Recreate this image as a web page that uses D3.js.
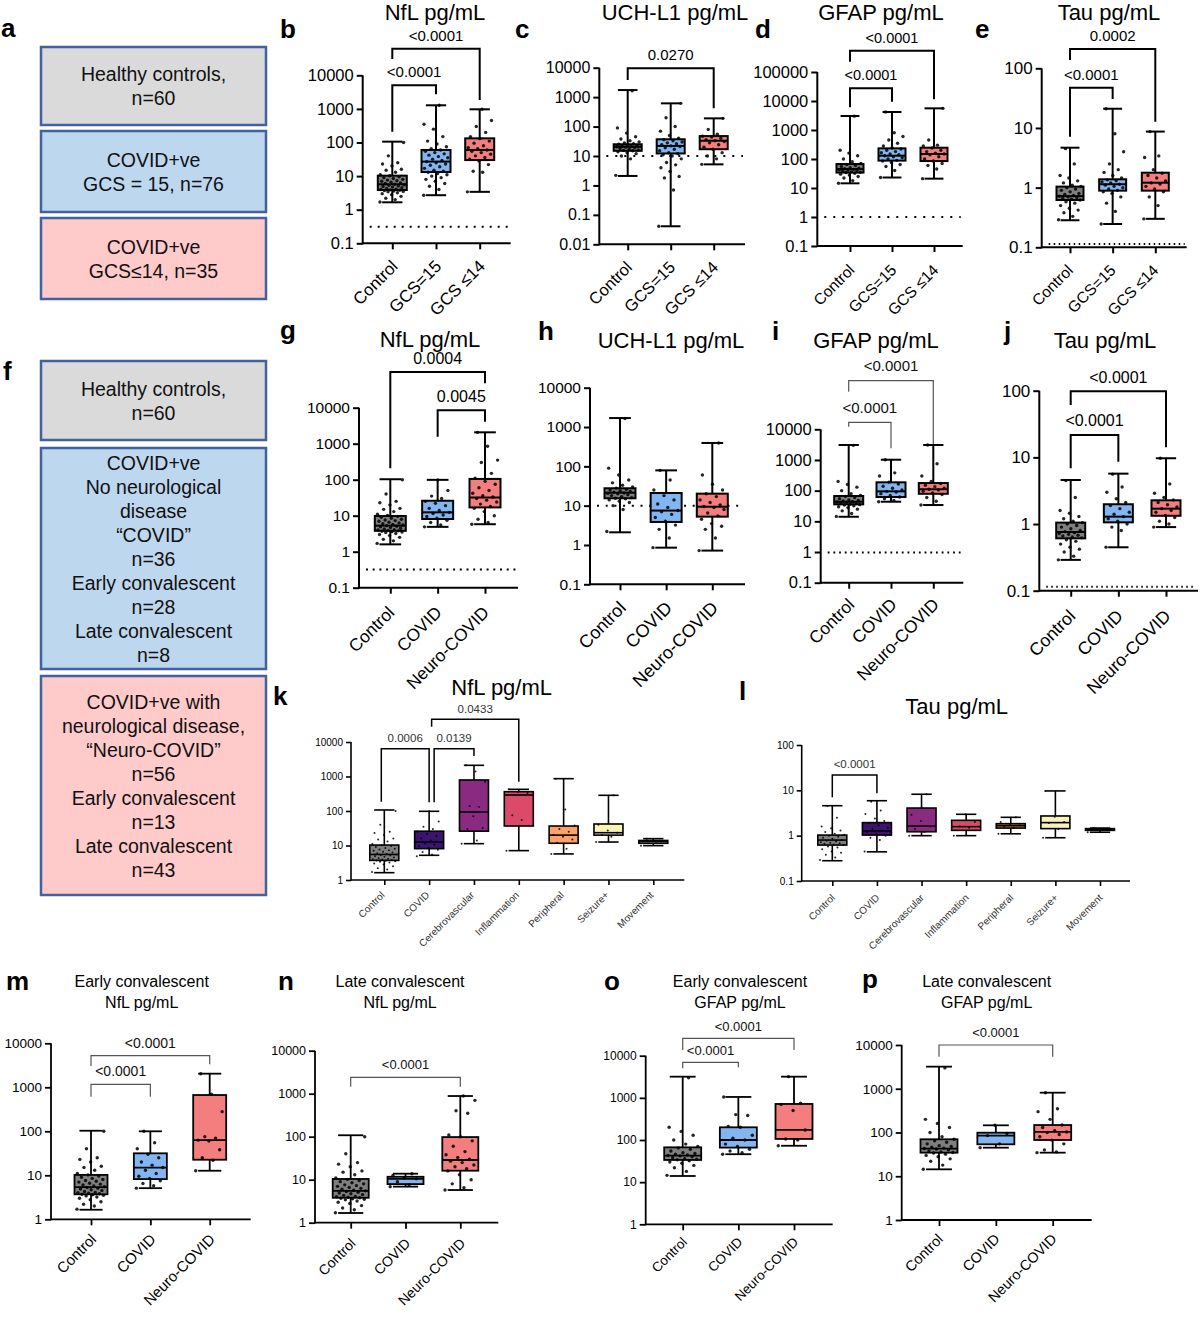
<!DOCTYPE html>
<html>
<head>
<meta charset="utf-8">
<script src="https://cdn.jsdelivr.net/npm/d3@7"></script>
<style>
  body { margin: 0; background: #fff; }
  svg { display: block; }
</style>
</head>
<body>
<svg id="fig" width="1200" height="1321"></svg>
<script>
const FONT = "'Liberation Sans', Arial, Helvetica, sans-serif"

// ---- categories ----
const gcsGroups = ['Control', 'GCS=15', 'GCS \u226414']
const neuroGroups = ['Control', 'COVID', 'Neuro-COVID']
const subGroups = ['Control', 'COVID', 'Cerebrovascular', 'Inflammation', 'Peripheral', 'Seizure+', 'Movement']

// ---- tick values ----
const ticksNfl = [0.1, 1, 10, 100, 1000, 10000]
const ticksUch = [0.01, 0.1, 1, 10, 100, 1000, 10000]
const ticksGfap = [0.1, 1, 10, 100, 1000, 10000, 100000]
const ticksTau = [0.1, 1, 10, 100]
const ticksConv = [1, 10, 100, 1000, 10000]

// ---- box stats [min, q1, median, q3, max] ----
const nflGcsBox = [[1.66, 3.85, 5.7, 10.3, 106], [2.7, 13.2, 27, 60, 1280], [3.4, 30, 60, 133, 973]]
const uchGcsBox = [[2.1, 15, 20.5, 25, 1740], [0.041, 12.2, 22, 37, 615], [5.2, 17, 33, 47.5, 190]]
const gfapGcsBox = [[14.5, 34, 45, 67, 3040], [23, 88, 130, 233, 4180], [21, 85, 149, 245, 5580]]
const tauGcsBox = [[0.284, 0.62, 0.72, 1.04, 4.67], [0.246, 0.89, 1.14, 1.38, 21], [0.3, 0.89, 1.21, 1.78, 8.7]]
const nflNeuroBox = [[1.6, 3.8, 5.3, 9.8, 103], [4.9, 8.1, 12.4, 26, 99], [5.8, 17, 32, 105, 2070]]
const uchNeuroBox = [[2.1, 15.4, 21.4, 27.7, 1690], [0.855, 3.85, 7.5, 21, 79], [0.72, 5.25, 9.4, 20.2, 393]]
const gfapNeuroBox = [[14.1, 35.8, 43.6, 67, 3080], [43.6, 62, 95, 187, 1020], [34, 79, 111, 177, 3080]]
const tauNeuroBox = [[0.29, 0.61, 0.76, 1.05, 4.58], [0.448, 1.06, 1.29, 1.98, 5.7], [0.9, 1.33, 1.7, 2.27, 9.7]]
const nflSubBox = [[1.63, 3.7, 5.5, 10.3, 107], [5.2, 8.1, 12.6, 26, 98], [11.3, 26, 93.5, 793, 2110],
  [7.1, 36.7, 291, 363, 425], [5.7, 11.6, 20, 36.7, 865], [12.6, 20, 23.5, 42, 285], [9.9, 11.6, 13, 14, 15.8]]
const tauSubBox = [[0.28, 0.62, 0.8, 1.03, 4.58], [0.44, 1.03, 1.27, 1.94, 5.9], [1.0, 1.22, 1.63, 4.07, 8.2],
  [1.0, 1.31, 1.58, 2.18, 2.96], [1.1, 1.47, 1.66, 1.84, 2.54], [0.9, 1.43, 1.94, 2.72, 9.7], [1.19, 1.31, 1.38, 1.43, 1.47]]
const nflEarlyBox = [[1.65, 3.7, 5.4, 10.2, 103], [5.1, 8.2, 14.9, 31.6, 100], [12.7, 22.6, 63, 668, 2040]]
const nflLateBox = [[1.68, 3.8, 5.5, 10.4, 108], [6.9, 7.9, 10.5, 11.7, 13.8], [5.75, 16.2, 28.7, 98, 883]]
const gfapEarlyBox = [[14, 33.6, 42.6, 67, 3180], [46, 66, 100, 200, 1050], [73, 106, 173, 716, 3180]]
const gfapLateBox = [[14.4, 34.6, 42.7, 70, 3200], [45, 53.7, 85, 99, 146], [34.6, 67.4, 103, 148, 813]]

// ---- individual points ----
const ctrlNflPts = [1.7, 2.0, 2.2, 2.5, 2.8, 3.0, 3.2, 3.4, 3.5, 3.6, 3.7, 3.8, 3.9, 4.0, 4.1, 4.3, 4.5, 4.7, 4.9, 5.1, 5.3, 5.5, 5.7, 6.0, 6.3, 6.6, 7.0, 7.3, 7.6, 8.0, 8.5, 9.0, 9.6, 10.2, 11, 13, 15, 16, 20, 23, 25, 40, 100]
const ctrlUchPts = [2.2, 8, 10, 12, 13, 14, 15, 15.5, 16, 17, 18, 19, 20, 20.5, 21, 22, 23, 24, 25, 26, 28, 30, 33, 38, 45, 60, 90, 1650]
const ctrlGfapPts = [14.5, 18, 22, 25, 28, 30, 32, 34, 35, 36, 38, 40, 42, 43, 44, 46, 48, 50, 55, 60, 65, 70, 80, 100, 130, 160, 200, 3000]
const ctrlTauPts = [0.29, 0.33, 0.38, 0.42, 0.45, 0.5, 0.55, 0.58, 0.62, 0.64, 0.66, 0.68, 0.7, 0.72, 0.74, 0.77, 0.8, 0.85, 0.9, 0.95, 1.0, 1.05, 1.1, 1.2, 1.3, 1.45, 1.6, 2.5, 4.5]

const nflGcsPts = [ctrlNflPts,
  [2.7, 4, 5, 6, 7, 8, 9, 10, 11, 12, 13, 14, 15, 17, 19, 21, 23, 25, 27, 29, 32, 35, 38, 42, 46, 50, 55, 60, 65, 75, 90, 110, 150, 250, 350, 1280],
  [3.4, 13, 14, 22, 28, 32, 36, 40, 45, 50, 55, 60, 65, 70, 80, 95, 110, 130, 150, 200, 300, 450, 973]]
const uchGcsPts = [ctrlUchPts,
  [0.041, 0.7, 1.8, 2, 3, 4, 5, 6, 8, 10, 11, 12, 13, 15, 17, 19, 21, 22, 24, 26, 28, 30, 33, 36, 40, 50, 70, 100, 200, 615],
  [5.2, 8, 10, 13, 17, 20, 24, 28, 31, 33, 36, 40, 44, 47, 55, 80, 190]]
const gfapGcsPts = [ctrlGfapPts,
  [23, 40, 55, 65, 75, 85, 90, 100, 110, 120, 130, 140, 150, 165, 180, 200, 220, 240, 280, 350, 450, 600, 800, 4180],
  [21, 45, 60, 70, 85, 100, 120, 140, 150, 160, 180, 200, 240, 280, 300, 450, 5580]]
const tauGcsPts = [ctrlTauPts,
  [0.246, 0.4, 0.55, 0.7, 0.8, 0.85, 0.9, 0.95, 1.0, 1.05, 1.1, 1.14, 1.2, 1.25, 1.3, 1.35, 1.45, 1.6, 1.8, 2.0, 2.5, 4, 8, 21],
  [0.3, 0.5, 0.7, 0.85, 0.95, 1.05, 1.15, 1.2, 1.3, 1.45, 1.6, 1.75, 2.0, 3.2, 3.4, 8.7]]

const covidNflPts = [4.9, 5.5, 6.5, 7.5, 8.5, 9.5, 10.5, 11.5, 12.4, 14, 16, 19, 22, 25, 30, 35, 50, 98]
const covidTauPts = [0.45, 0.8, 0.9, 1.0, 1.1, 1.2, 1.29, 1.4, 1.5, 1.7, 1.9, 2.1, 2.4, 3.0, 3.6, 5.6]

const nflNeuroPts = [ctrlNflPts, covidNflPts,
  [5.8, 6.5, 8, 10, 13, 16, 18, 21, 24, 27, 30, 33, 36, 42, 50, 60, 75, 90, 110, 150, 300, 350, 850, 2070]]
const uchNeuroPts = [ctrlUchPts,
  [0.855, 1.5, 2.5, 3.2, 4, 5, 6, 7, 7.5, 9, 11, 14, 18, 25, 45, 79],
  [0.72, 1.5, 2.5, 3, 3.5, 4.5, 5.5, 6.5, 8, 9, 9.5, 10.5, 12, 14, 17, 20, 25, 35, 60, 393]]
const gfapNeuroPts = [ctrlGfapPts,
  [43.6, 48, 55, 62, 70, 80, 90, 95, 105, 120, 140, 165, 190, 300, 380, 1020],
  [34, 45, 60, 75, 85, 95, 105, 111, 120, 135, 150, 170, 200, 300, 750, 3080]]
const tauNeuroPts = [ctrlTauPts, covidTauPts,
  [0.9, 1.0, 1.1, 1.25, 1.35, 1.5, 1.6, 1.7, 1.8, 1.95, 2.1, 2.3, 2.5, 2.9, 4, 9.7]]

const nflSubPts = [ctrlNflPts, covidNflPts, [11.3, 14, 30, 32, 70, 95, 130, 140, 700, 1400, 2110],
  [7.1, 55, 75, 330, 363, 425], [5.7, 8, 12, 15, 18, 20, 25, 30, 38, 110, 865], [12.6, 18, 20, 23.5, 27, 40, 285], [9.9, 13, 15.8]]
const tauSubPts = [ctrlTauPts, covidTauPts, [1.0, 1.2, 1.4, 1.6, 2.1, 2.9, 8.2],
  [1.0, 1.5, 1.6, 2.0, 2.96], [1.1, 1.5, 1.6, 1.7, 1.8, 2.0, 2.54], [0.9, 1.4, 1.9, 2.0, 2.6, 9.7], [1.19, 1.38, 1.47]]

const nflEarlyPts = [ctrlNflPts, [5.1, 5.8, 6.5, 7.5, 8.5, 9.5, 11, 13, 15, 17, 20, 25, 30, 40, 55, 100],
  [12.7, 22, 25, 38, 60, 63, 70, 75, 280, 700, 2040]]
const nflLatePts = [ctrlNflPts, [6.9, 7.5, 9, 10.5, 11, 12.5, 13.8],
  [5.75, 6.5, 8, 10, 13, 16, 18, 20, 22, 25, 27, 30, 33, 38, 45, 60, 80, 100, 110, 350, 400, 700, 883]]
const gfapEarlyPts = [ctrlGfapPts, [46, 50, 55, 60, 70, 80, 100, 110, 130, 200, 210, 380, 400, 1050],
  [73, 100, 106, 173, 500, 700, 750, 3180]]
const gfapLatePts = [ctrlGfapPts, [45, 55, 85, 95, 146],
  [34.6, 36, 40, 55, 67, 80, 90, 100, 103, 110, 130, 148, 200, 300, 350, 813]]

// ---- significance brackets [from, to, top, leftEnd, rightEnd, label, dxLeft, dxRight] ----
const nflGcsSig = [[0, 1, 5030, 210, 2720, '<0.0001'], [0, 2, 61900, 30500, 1840, '<0.0001']]
const uchGcsSig = [[0, 2, 9550, 3820, 416, '0.0270']]
const gfapGcsSig = [[0, 1, 27400, 6060, 9460, '<0.0001'], [0, 2, 542000, 226000, 11400, '<0.0001']]
const tauGcsSig = [[0, 1, 47.3, 7.14, 30.6, '<0.0001'], [0, 2, 210, 138, 12.7, '0.0002']]
const nflNeuroSig = [[1, 2, 8470, 1565, 4080, '0.0045'], [0, 2, 98100, 207, 47600, '0.0004']]
const gfapNeuroSig = [[0, 1, 16900, 12200, 2400, '<0.0001'], [0, 2, 385000, 168000, 3320, '<0.0001']]
const tauNeuroSig = [[0, 1, 21.7, 6.85, 8.6, '<0.0001'], [0, 2, 98, 61, 14.2, '<0.0001']]
const nflSubSig = [[0, 1, 6400, 186, 179, '0.0006', -3, 0], [1, 2, 6400, 180, 3930, '0.0139', 5, 0],
  [1, 3, 45500, 27700, 706, '0.0433', 2.5, 0]]
const tauSubSig = [[0, 1, 21.8, 7.0, 8.6, '<0.0001']]
const nflEarlySig = [[0, 1, 1170, 611, 611, '<0.0001'], [0, 2, 5220, 3050, 3330, '<0.0001']]
const nflLateSig = [[0, 2, 2400, 1455, 1455, '<0.0001']]
const gfapEarlySig = [[0, 1, 6970, 5030, 5310, '<0.0001'], [0, 2, 25900, 13600, 13600, '<0.0001']]
const gfapLateSig = [[0, 2, 10000, 5400, 5400, '<0.0001']]

// ---- colours ----
const triColors = ['#7f7f7f', '#83b6f1', '#f47e7e']
const nflSubColors = ['#7f7f7f', '#3d1371', '#8a2a80', '#dc4a69', '#fda06c', '#fbf3b4', '#d9d9d9']
const tauSubColors = ['#7f7f7f', '#3d1371', '#8a2a80', '#dc4a69', '#c87b4c', '#fbf3b4', '#d9d9d9']

// ---- cohort boxes (panels a and f) ----
const cohortA = [['Healthy controls,', 'n=60'], ['COVID+ve', 'GCS = 15, n=76'], ['COVID+ve', 'GCS\u226414, n=35']]
const cohortF = [['Healthy controls,', 'n=60'],
  ['COVID+ve', 'No neurological', 'disease', '\u201cCOVID\u201d', 'n=36', 'Early convalescent', 'n=28', 'Late convalescent', 'n=8'],
  ['COVID+ve with', 'neurological disease,', '\u201cNeuro-COVID\u201d', 'n=56', 'Early convalescent', 'n=13', 'Late convalescent', 'n=43']]
const cohortFill = ['#dadada', '#bdd7ee', '#ffcaca']

const svg = d3.select('#fig').attr('font-family', FONT)

function cohortBoxes (texts, spans) {
  texts.forEach((lines, i) => {
    const [y0, y1] = spans[i]
    svg.append('rect')
      .attr('x', 41).attr('y', y0).attr('width', 225).attr('height', y1 - y0)
      .attr('fill', cohortFill[i]).attr('stroke', '#41629e').attr('stroke-width', 2.5)
    const mid = (y0 + y1) / 2
    lines.forEach((t, k) => {
      svg.append('text')
        .attr('x', 153.5).attr('y', mid - (lines.length - 1) * 12 + k * 24 + 7)
        .attr('text-anchor', 'middle').attr('font-size', 19.5).attr('fill', '#111')
        .text(t)
    })
  })
}
cohortBoxes(cohortA, [[47, 125], [131, 212], [218, 299]])
cohortBoxes(cohortF, [[361, 440], [448, 669], [676, 895]])

function drawPanel (p) {
  const g = svg.append('g')
  const lo = p.ticks[0]
  const hi = p.ticks[p.ticks.length - 1]
  const y = d3.scaleLog().domain([lo, hi]).range([p.yBot, p.yTop])
  const x = d3.scalePoint().domain(p.cats).range(p.catRange)

  // title
  p.title.forEach((t, i) => {
    g.append('text')
      .attr('x', p.titleX).attr('y', p.titleY + i * 21)
      .attr('text-anchor', 'middle').attr('font-size', p.titleSize)
      .text(t)
  })

  // lower limit of quantification
  if (p.lloq) {
    g.append('line')
      .attr('x1', p.axisX + 7).attr('x2', p.axisEnd - 2)
      .attr('y1', y(p.lloq)).attr('y2', y(p.lloq))
      .attr('stroke', '#000').attr('stroke-width', 2)
      .attr('stroke-dasharray', p.dash)
  }

  // y axis
  const ya = g.append('g')
    .attr('transform', `translate(${p.axisX},0)`)
    .call(d3.axisLeft(y).tickValues(p.ticks).tickFormat(d => String(d)).tickSize(p.tickLen).tickPadding(3))
  ya.attr('font-family', FONT)
  ya.select('.domain').remove()
  ya.selectAll('line').attr('stroke-width', p.lw)
  ya.selectAll('text').attr('font-size', p.tickFont).attr('fill', '#000')

  // x axis
  const xa = g.append('g')
    .attr('transform', `translate(0,${p.yBot})`)
    .call(d3.axisBottom(x).tickSize(p.tickLen))
  xa.attr('font-family', FONT)
  xa.select('.domain').remove()
  xa.selectAll('line').attr('stroke-width', p.lw)
  xa.selectAll('text')
    .attr('y', 0).attr('dy', 0)
    .attr('text-anchor', 'end')
    .attr('font-size', p.catFont)
    .attr('fill', p.catColor || '#000')
    .attr('transform', `translate(${p.catDx},${p.catDy}) rotate(-45)`)

  g.append('line')
    .attr('x1', p.axisX).attr('x2', p.axisX)
    .attr('y1', p.yBot + p.lw / 2).attr('y2', p.yTop)
    .attr('stroke', '#000').attr('stroke-width', p.lw)
  g.append('line')
    .attr('x1', p.axisX).attr('x2', p.axisEnd)
    .attr('y1', p.yBot).attr('y2', p.yBot)
    .attr('stroke', '#000').attr('stroke-width', p.lw)

  // boxes
  p.box.forEach((s, i) => {
    const cx = x(p.cats[i])
    const [mn, q1, md, q3, mx] = s
    const bw = p.bw
    const cap = bw * 0.7
    const bg = g.append('g')
    bg.append('line').attr('x1', cx).attr('x2', cx).attr('y1', y(mx)).attr('y2', y(q3))
    bg.append('line').attr('x1', cx).attr('x2', cx).attr('y1', y(q1)).attr('y2', y(mn))
    bg.append('line').attr('x1', cx - cap / 2).attr('x2', cx + cap / 2).attr('y1', y(mx)).attr('y2', y(mx))
    bg.append('line').attr('x1', cx - cap / 2).attr('x2', cx + cap / 2).attr('y1', y(mn)).attr('y2', y(mn))
    bg.append('rect')
      .attr('x', cx - bw / 2).attr('y', y(q3))
      .attr('width', bw).attr('height', Math.max(1, y(q1) - y(q3)))
      .attr('fill', p.colors[i])
    bg.append('line').attr('x1', cx - bw / 2).attr('x2', cx + bw / 2).attr('y1', y(md)).attr('y2', y(md))
    bg.selectAll('line, rect').attr('stroke', '#000').attr('stroke-width', p.lw)

    // points
    g.selectAll(null)
      .data(p.pts[i])
      .enter()
      .append('circle')
      .attr('cx', (d, k) => cx + (((k * 0.6180339) % 1) - 0.5) * bw * 0.85)
      .attr('cy', d => y(d))
      .attr('r', p.r)
      .attr('fill', '#000')
      .attr('fill-opacity', 0.85)
  })

  // significance brackets
  p.sig.forEach(b => {
    const [a, c, top, le, re, label, dxa = 0, dxc = 0] = b
    const xa1 = x(p.cats[a]) + dxa
    const xc1 = x(p.cats[c]) + dxc
    g.append('path')
      .attr('d', `M${xa1},${y(le)}V${y(top)}H${xc1}V${y(re)}`)
      .attr('fill', 'none')
      .attr('stroke', p.sigColor)
      .attr('stroke-width', p.sigW)
    g.append('text')
      .attr('x', (xa1 + xc1) / 2).attr('y', y(top) - p.sigGap)
      .attr('text-anchor', 'middle')
      .attr('font-size', p.sigFont)
      .attr('fill', p.sigText || '#000')
      .text(label)
  })
}

const bold = { lw: 2, tickLen: 6, sigColor: '#000', sigW: 2, r: 1.7, sigGap: 8 }
const thin = { lw: 1.8, tickLen: 6, sigColor: '#555', sigW: 1.2, r: 1.7, sigGap: 8, sigText: '#111' }

const panels = [
  Object.assign({}, bold, { cats: gcsGroups, box: nflGcsBox, pts: nflGcsPts, sig: nflGcsSig, colors: triColors, ticks: ticksNfl,
    lloq: 0.31, dash: '2,6', title: ['NfL pg/mL'], titleX: 435, titleY: 19.5, titleSize: 22,
    axisX: 362.7, axisEnd: 510.7, yTop: 75.3, yBot: 243.3, catRange: [392.3, 479.7], bw: 29,
    tickFont: 16.5, catFont: 17, catDx: 6, catDy: 24, sigFont: 15 }),
  Object.assign({}, bold, { cats: gcsGroups, box: uchGcsBox, pts: uchGcsPts, sig: uchGcsSig, colors: triColors, ticks: ticksUch,
    lloq: 10, dash: '2,7', title: ['UCH-L1 pg/mL'], titleX: 675, titleY: 19.5, titleSize: 22,
    axisX: 599.3, axisEnd: 745, yTop: 67.7, yBot: 244.3, catRange: [627.7, 713.7], bw: 28,
    tickFont: 16, catFont: 16.5, catDx: 5, catDy: 24, sigFont: 15 }),
  Object.assign({}, bold, { cats: gcsGroups, box: gfapGcsBox, pts: gfapGcsPts, sig: gfapGcsSig, colors: triColors, ticks: ticksGfap,
    lloq: 1, dash: '2,7', title: ['GFAP pg/mL'], titleX: 881, titleY: 19.5, titleSize: 22,
    axisX: 817.3, axisEnd: 962.7, yTop: 72, yBot: 246, catRange: [850, 934], bw: 27,
    tickFont: 16.5, catFont: 15.6, catDx: 5, catDy: 25, sigFont: 14.5 }),
  Object.assign({}, bold, { cats: gcsGroups, box: tauGcsBox, pts: tauGcsPts, sig: tauGcsSig, colors: triColors, ticks: ticksTau,
    lloq: 0.114, dash: '1.5,3.5', title: ['Tau pg/mL'], titleX: 1109, titleY: 19.5, titleSize: 22,
    axisX: 1041.7, axisEnd: 1186.7, yTop: 68.3, yBot: 247.3, catRange: [1070, 1155.3], bw: 27,
    tickFont: 17, catFont: 15.6, catDx: 3.5, catDy: 24, sigFont: 15 }),
  Object.assign({}, bold, { cats: neuroGroups, box: nflNeuroBox, pts: nflNeuroPts, sig: nflNeuroSig, colors: triColors, ticks: ticksNfl,
    lloq: 0.32, dash: '2,4.7', title: ['NfL pg/mL'], titleX: 430, titleY: 346.5, titleSize: 22,
    axisX: 359, axisEnd: 518, yTop: 407.7, yBot: 587.7, catRange: [390.3, 485], bw: 31,
    tickFont: 15.5, catFont: 17.4, catDx: 4.7, catDy: 26, sigFont: 16 }),
  Object.assign({}, bold, { cats: neuroGroups, box: uchNeuroBox, pts: uchNeuroPts, sig: [], colors: triColors, ticks: ticksNfl,
    lloq: 10, dash: '2,6.7', title: ['UCH-L1 pg/mL'], titleX: 671, titleY: 347.5, titleSize: 22,
    axisX: 590, axisEnd: 745, yTop: 387.7, yBot: 584.3, catRange: [620, 712.3], bw: 31,
    tickFont: 15.5, catFont: 18, catDx: 6.5, catDy: 24.7, sigFont: 16 }),
  Object.assign({}, thin, { lw: 2, cats: neuroGroups, box: gfapNeuroBox, pts: gfapNeuroPts, sig: gfapNeuroSig, colors: triColors, ticks: ticksNfl,
    lloq: 0.97, dash: '1.8,3.9', title: ['GFAP pg/mL'], titleX: 876, titleY: 347.5, titleSize: 22,
    axisX: 820.7, axisEnd: 963.3, yTop: 429.3, yBot: 582.7, catRange: [848.7, 933.3], bw: 29,
    tickFont: 16.5, catFont: 17.3, catDx: 6.3, catDy: 23, sigFont: 15, sigGap: 9.5 }),
  Object.assign({}, bold, { cats: neuroGroups, box: tauNeuroBox, pts: tauNeuroPts, sig: tauNeuroSig, colors: triColors, ticks: ticksTau,
    lloq: 0.115, dash: '1.5,3.5', title: ['Tau pg/mL'], titleX: 1105, titleY: 347.5, titleSize: 22,
    axisX: 1039.3, axisEnd: 1198, yTop: 390.7, yBot: 590.7, catRange: [1070.7, 1166], bw: 29,
    tickFont: 17, catFont: 17.7, catDx: 5.3, catDy: 26.5, sigFont: 16, sigGap: 8.5 }),
  Object.assign({}, bold, { lw: 1.6, tickLen: 5, sigW: 1.5, r: 1, sigGap: 6.3, cats: subGroups, box: nflSubBox, pts: nflSubPts,
    sig: nflSubSig, colors: nflSubColors, ticks: ticksConv, title: ['NfL pg/mL'], titleX: 501.7, titleY: 695, titleSize: 22,
    axisX: 351, axisEnd: 684.3, yTop: 742, yBot: 880, catRange: [384.3, 653.3], bw: 29,
    tickFont: 10, catFont: 10, catColor: '#333', catDx: 0.5, catDy: 15.7, sigFont: 11.5, sigText: '#333' }),
  Object.assign({}, bold, { lw: 1.6, tickLen: 5, sigW: 1.5, r: 1, sigGap: 6.7, cats: subGroups, box: tauSubBox, pts: tauSubPts,
    sig: tauSubSig, colors: tauSubColors, ticks: ticksTau, title: ['Tau pg/mL'], titleX: 956.7, titleY: 714, titleSize: 22,
    axisX: 801.7, axisEnd: 1130, yTop: 745, yBot: 881, catRange: [832.3, 1100], bw: 29,
    tickFont: 10, catFont: 10, catColor: '#333', catDx: 2.7, catDy: 17.3, sigFont: 11.5, sigText: '#333' }),
  Object.assign({}, thin, { cats: neuroGroups, box: nflEarlyBox, pts: nflEarlyPts, sig: nflEarlySig, colors: triColors, ticks: ticksConv,
    title: ['Early convalescent', 'NfL pg/mL'], titleX: 141.7, titleY: 986.7, titleSize: 16,
    axisX: 51, axisEnd: 250.7, yTop: 1043.3, yBot: 1219.3, catRange: [91, 209.7], bw: 33,
    tickFont: 13.5, catFont: 15, catDx: 5.7, catDy: 21, sigFont: 14 }),
  Object.assign({}, thin, { cats: neuroGroups, box: nflLateBox, pts: nflLatePts, sig: nflLateSig, colors: triColors, ticks: ticksConv,
    title: ['Late convalescent', 'NfL pg/mL'], titleX: 400, titleY: 986.7, titleSize: 16,
    axisX: 315, axisEnd: 498.3, yTop: 1050.7, yBot: 1222.7, catRange: [350.7, 460.3], bw: 36,
    tickFont: 12.5, catFont: 14.1, catDx: 5.3, catDy: 21.6, sigFont: 13 }),
  Object.assign({}, thin, { cats: neuroGroups, box: gfapEarlyBox, pts: gfapEarlyPts, sig: gfapEarlySig, colors: triColors, ticks: ticksConv,
    title: ['Early convalescent', 'GFAP pg/mL'], titleX: 740, titleY: 986.7, titleSize: 16,
    axisX: 645.7, axisEnd: 832.7, yTop: 1055.7, yBot: 1224.3, catRange: [682.7, 794], bw: 37,
    tickFont: 12, catFont: 13.4, catDx: 4.6, catDy: 18.5, sigFont: 13, sigGap: 7.5 }),
  Object.assign({}, thin, { cats: neuroGroups, box: gfapLateBox, pts: gfapLatePts, sig: gfapLateSig, colors: triColors, ticks: ticksConv,
    title: ['Late convalescent', 'GFAP pg/mL'], titleX: 986.7, titleY: 986.7, titleSize: 16,
    axisX: 901.7, axisEnd: 1091.7, yTop: 1045, yBot: 1220, catRange: [939, 1052.7], bw: 37,
    tickFont: 13.5, catFont: 14.4, catDx: 4.3, catDy: 20, sigFont: 13 })
]

panels.forEach(drawPanel)

// panel letters
const letters = [['a', 1, 37], ['b', 280, 38], ['c', 515, 38], ['d', 755, 38], ['e', 975, 38],
  ['f', 3, 380], ['g', 280, 339], ['h', 538, 340], ['i', 772, 340], ['j', 1004, 340],
  ['k', 273, 705], ['l', 739, 700], ['m', 6, 990], ['n', 278, 990], ['o', 604, 990], ['p', 862, 988]]
svg.selectAll('text.letter')
  .data(letters)
  .enter()
  .append('text')
  .attr('class', 'letter')
  .attr('x', d => d[1])
  .attr('y', d => d[2])
  .attr('font-size', 26)
  .attr('font-weight', 'bold')
  .text(d => d[0])
</script>
</body>
</html>
